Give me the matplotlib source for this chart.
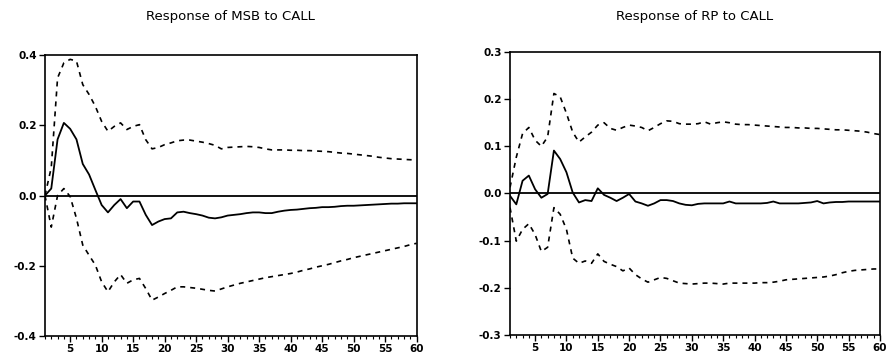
import matplotlib.pyplot as plt
import numpy as np
from matplotlib.ticker import MultipleLocator

# Horizontes de la respuesta impulso
periods = np.arange(1, 61)

# Response of MSB to CALL
msb_resp = [0.0, 0.02, 0.16, 0.207, 0.19, 0.16, 0.09, 0.06, 0.016, -0.027,
            -0.048, -0.027, -0.01, -0.036, -0.017, -0.017, -0.055, -0.084, -0.074, -0.067,
            -0.065, -0.048, -0.046, -0.05, -0.053, -0.057, -0.063, -0.065, -0.062, -0.057,
            -0.055, -0.053, -0.05, -0.048, -0.048, -0.05, -0.05, -0.046, -0.043, -0.041,
            -0.04, -0.038, -0.036, -0.035, -0.033, -0.033, -0.032, -0.03, -0.029, -0.029,
            -0.028, -0.027, -0.026, -0.025, -0.024, -0.023, -0.023, -0.022, -0.022, -0.022]
msb_upper = [0.0, 0.08, 0.335, 0.378, 0.388, 0.383, 0.316, 0.288, 0.254, 0.211,
             0.183, 0.197, 0.207, 0.188, 0.197, 0.202, 0.159, 0.133, 0.137, 0.145,
             0.15, 0.156, 0.158, 0.158, 0.155, 0.152, 0.148, 0.143, 0.133, 0.137,
             0.138, 0.139, 0.14, 0.139, 0.137, 0.133, 0.13, 0.13, 0.13, 0.129,
             0.129, 0.128, 0.128, 0.127, 0.126, 0.125, 0.123, 0.121, 0.12, 0.118,
             0.116, 0.114, 0.112, 0.109, 0.107, 0.105, 0.104, 0.103, 0.102, 0.102]
msb_lower = [0.0, -0.09, 0.0, 0.02, -0.003, -0.065, -0.141, -0.17, -0.198, -0.246,
             -0.274, -0.246, -0.225, -0.25, -0.24, -0.236, -0.265, -0.298, -0.289, -0.279,
             -0.27, -0.26, -0.26, -0.262, -0.264, -0.267, -0.27, -0.272, -0.266, -0.26,
             -0.255, -0.25, -0.246, -0.242, -0.238, -0.234, -0.231, -0.228, -0.225, -0.222,
             -0.218, -0.213, -0.209, -0.204, -0.2, -0.196, -0.191, -0.186, -0.182, -0.177,
             -0.173, -0.169, -0.165, -0.161, -0.157, -0.153, -0.149, -0.145, -0.14, -0.136]

# Response of RP to CALL
rp_resp = [-0.005, -0.023, 0.027, 0.038, 0.009, -0.009, -0.001, 0.091, 0.073, 0.045,
           0.002, -0.019, -0.014, -0.016, 0.011, -0.003, -0.009, -0.016, -0.009, -0.001,
           -0.017, -0.021, -0.026, -0.021, -0.014, -0.014, -0.016, -0.021, -0.024, -0.025,
           -0.022, -0.021, -0.021, -0.021, -0.021, -0.017, -0.021, -0.021, -0.021, -0.021,
           -0.021, -0.02, -0.017, -0.021, -0.021, -0.021, -0.021, -0.02, -0.019, -0.016,
           -0.021, -0.019, -0.018, -0.018, -0.017, -0.017, -0.017, -0.017, -0.017, -0.017]
rp_upper = [0.013, 0.077, 0.127, 0.14, 0.113, 0.1, 0.12, 0.212, 0.205, 0.17,
            0.13, 0.109, 0.12, 0.13, 0.145, 0.15, 0.138, 0.134, 0.14, 0.145,
            0.143, 0.14, 0.133, 0.14, 0.148, 0.154, 0.153, 0.148, 0.147, 0.147,
            0.148, 0.152, 0.147, 0.15, 0.152, 0.15, 0.147, 0.146, 0.146, 0.145,
            0.144, 0.143, 0.142, 0.141, 0.14, 0.14, 0.139, 0.139, 0.138, 0.138,
            0.137, 0.136, 0.135, 0.135, 0.134, 0.133, 0.132, 0.13, 0.127, 0.125]
rp_lower = [-0.03, -0.101, -0.076, -0.064, -0.087, -0.123, -0.114, -0.03, -0.044, -0.076,
            -0.137, -0.148, -0.143, -0.148, -0.128, -0.144, -0.15, -0.155, -0.164, -0.158,
            -0.172, -0.181, -0.188, -0.183, -0.178, -0.18, -0.185, -0.19, -0.191, -0.192,
            -0.191, -0.19, -0.19, -0.191, -0.192, -0.19, -0.19, -0.19, -0.19, -0.19,
            -0.189, -0.189, -0.188, -0.186, -0.183, -0.182, -0.181, -0.18, -0.179, -0.178,
            -0.177, -0.175, -0.172, -0.168, -0.165, -0.163, -0.162, -0.161, -0.16, -0.16]

msb_yticks = [-0.4, -0.2, 0.0, 0.2, 0.4]
rp_yticks = [-0.3, -0.2, -0.1, 0.0, 0.1, 0.2, 0.3]

fig = plt.figure(figsize=(8.87, 3.61), dpi=100)
ax1 = fig.add_axes([0.0507, 0.0693, 0.419, 0.778])
ax2 = fig.add_axes([0.575, 0.072, 0.417, 0.784])

paneles = [
    (ax1, msb_resp, msb_upper, msb_lower, msb_yticks, 'Response of MSB to CALL'),
    (ax2, rp_resp, rp_upper, rp_lower, rp_yticks, 'Response of RP to CALL'),
]

for ax, resp, up, lo, yt, titulo in paneles:
    ax.axhline(0, color='black', lw=1.3)
    ax.plot(periods, up, color='black', lw=1.2, ls=(0, (3, 3)))
    ax.plot(periods, lo, color='black', lw=1.2, ls=(0, (3, 3)))
    ax.plot(periods, resp, color='black', lw=1.3)
    ax.set_xlim(1, 60)
    ax.set_ylim(yt[0], yt[-1])
    ax.set_yticks(yt)
    ax.set_yticklabels([f'{v:.1f}' for v in yt])
    ax.xaxis.set_major_locator(MultipleLocator(5))
    ax.xaxis.set_minor_locator(MultipleLocator(1))
    ax.set_xticks(np.arange(5, 61, 5))
    ax.tick_params(axis='both', which='major', labelsize=7.5, length=4, width=1, pad=2)
    ax.tick_params(axis='x', which='minor', length=2, width=0.8)
    for lab in ax.get_xticklabels() + ax.get_yticklabels():
        lab.set_fontweight('bold')
    for s in ax.spines.values():
        s.set_linewidth(1.2)
    centro = ax.get_position().x0 + ax.get_position().width / 2
    fig.text(centro, 0.955, titulo, ha='center', va='center', fontsize=9.5)

plt.savefig('out.png', dpi=100)
